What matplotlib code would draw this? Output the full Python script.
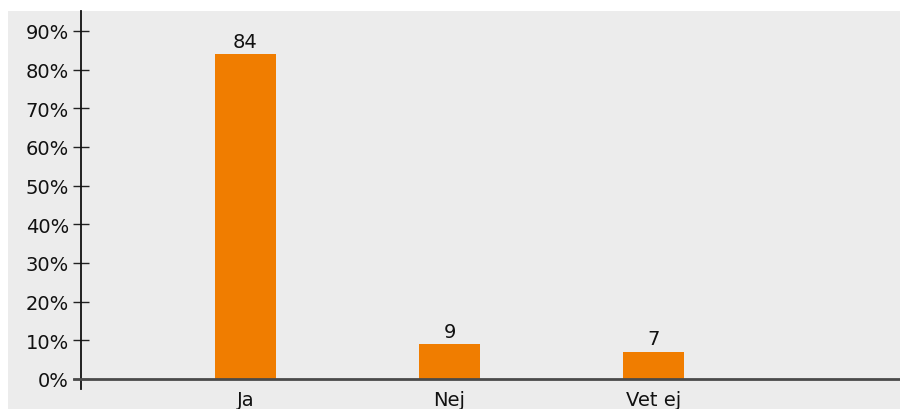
import matplotlib

matplotlib.use("Agg")
import matplotlib.pyplot as plt
from matplotlib.patches import Rectangle

CATEGORIES = ["Ja", "Nej", "Vet ej"]
VALUES = [84, 9, 7]
Y_TICKS = [0, 10, 20, 30, 40, 50, 60, 70, 80, 90]

BG = "#ececec"
ORANGE = "#f07d00"

plt.rcParams["font.family"] = ["DejaVu Sans"]

fig = plt.figure(figsize=(9.0, 4.1), dpi=100)
fig.patch.set_facecolor("white")
fig.patches.append(
    Rectangle((8 / 900, 0), 1 - 8 / 900, 1 - 12 / 410,
              transform=fig.transFigure, facecolor=BG, edgecolor="none", zorder=-5)
)

ax = fig.add_axes([81 / 900, 20 / 410, 1 - 81 / 900, 1 - 12 / 410 - 20 / 410])
ax.set_facecolor(BG)

x = list(range(len(CATEGORIES)))
ax.bar(x, VALUES, width=0.3, color=ORANGE, zorder=2)
for xi, v in zip(x, VALUES):
    ax.annotate(str(v), (xi, v), xytext=(0, 2.5), textcoords="offset points",
                ha="center", va="bottom", fontsize=14, color="#111111")

ax.set_xlim(-0.806, 3.208)
ax.set_ylim(-2.59, 95.17)
ax.set_yticks(Y_TICKS)
ax.set_yticklabels([f"{t}%" for t in Y_TICKS])
ax.set_xticks(x)
ax.set_xticklabels(CATEGORIES)

ax.axhline(0, xmin=-7 / 819, xmax=1, clip_on=False, color="#4a4a4a",
           linewidth=2.0, zorder=3)

for side in ["top", "right", "bottom"]:
    ax.spines[side].set_visible(False)
ax.spines["left"].set_color("#111111")
ax.spines["left"].set_linewidth(1.3)

ax.tick_params(axis="y", direction="inout", length=11.5, width=1.0,
               color="#222222", labelsize=14, labelcolor="#111111", pad=3)
ax.tick_params(axis="x", length=0, labelsize=14, labelcolor="#111111", pad=0.5)

fig.savefig("out.png", dpi=100, facecolor=fig.get_facecolor())
